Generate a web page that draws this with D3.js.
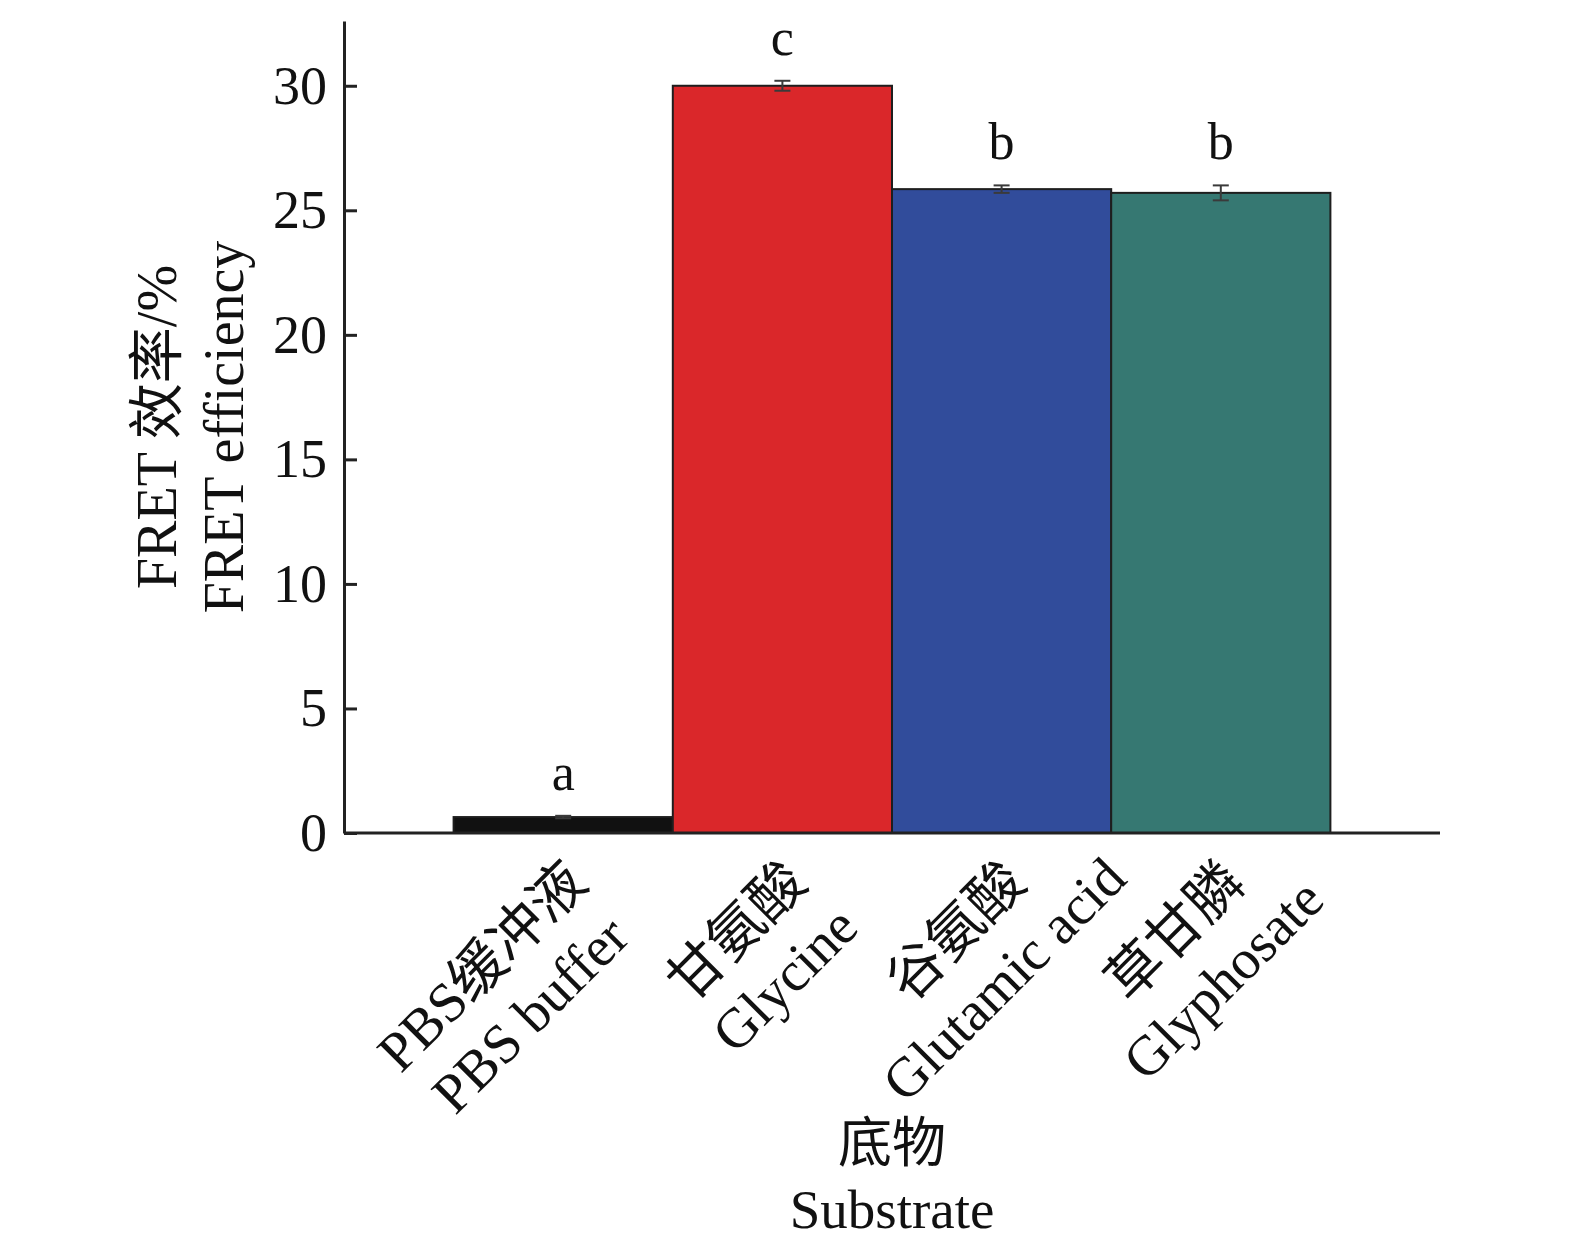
<!DOCTYPE html>
<html>
<head>
<meta charset="utf-8">
<script src="https://cdn.jsdelivr.net/npm/d3@7/dist/d3.min.js"></script>
<style>
  body { margin: 0; background: #fff; }
  text { font-family: "Liberation Serif", "Noto Sans CJK SC", serif; fill: #111; }
</style>
</head>
<body>
<svg id="chart" width="1575" height="1260"></svg>
<script>
// chart data
const categories = ["PBS", "Glycine", "Glutamic acid", "Glyphosate"];
const labelsZh = ["PBS缓冲液", "甘氨酸", "谷氨酸", "草甘膦"];
const labelsEn = ["PBS buffer", "Glycine", "Glutamic acid", "Glyphosate"];
const values = [0.64, 30.0, 25.85, 25.7];
const errors = [0.05, 0.2, 0.15, 0.3];
const letters = ["a", "c", "b", "b"];
const yTicks = [0, 5, 10, 15, 20, 25, 30];
const colors = ["#111111", "#da272a", "#314c9b", "#367872"];

const svg = d3.select("#chart");

// plot area
const plotLeft = 344, plotRight = 1440, plotTop = 21, plotBottom = 833;

const x = d3.scaleBand()
    .domain(categories)
    .range([plotLeft, plotRight])
    .paddingInner(0)
    .paddingOuter(0.5);

const y = d3.scaleLinear()
    .domain([0, 32.6])
    .range([plotBottom, plotTop]);

// bars
svg.append("g")
    .selectAll("rect")
    .data(categories)
    .enter().append("rect")
    .attr("x", d => x(d))
    .attr("y", (d, i) => y(values[i]))
    .attr("width", x.bandwidth())
    .attr("height", (d, i) => y(0) - y(values[i]))
    .attr("fill", (d, i) => colors[i])
    .attr("stroke", "#1e1e1e")
    .attr("stroke-width", 2);

// error bars
const err = svg.append("g").attr("stroke", "#3a3a3a").attr("stroke-width", 2);
categories.forEach((c, i) => {
    let cx = x(c) + x.bandwidth() / 2;
    let y1 = y(values[i] + errors[i]), y2 = y(values[i] - errors[i]);
    err.append("line").attr("x1", cx).attr("x2", cx).attr("y1", y1).attr("y2", y2);
    err.append("line").attr("x1", cx - 8).attr("x2", cx + 8).attr("y1", y1).attr("y2", y1);
    err.append("line").attr("x1", cx - 8).attr("x2", cx + 8).attr("y1", y2).attr("y2", y2);
});

// significance letters
svg.append("g")
    .selectAll("text")
    .data(categories)
    .enter().append("text")
    .attr("x", d => x(d) + x.bandwidth() / 2)
    .attr("y", (d, i) => y(values[i] + errors[i]) - 26)
    .attr("text-anchor", "middle")
    .style("font-size", "52px")
    .text((d, i) => letters[i]);

// y axis
const yAxis = svg.append("g")
    .attr("transform", `translate(${plotLeft},0)`)
    .call(d3.axisLeft(y).tickValues(yTicks).tickSize(-13).tickSizeOuter(0).tickPadding(17));
yAxis.select(".domain").attr("stroke", "#222").attr("stroke-width", 3);
yAxis.selectAll(".tick line").attr("stroke", "#222").attr("stroke-width", 3);
yAxis.selectAll(".tick text")
    .style("font-size", "54px")
    .style("font-family", "Liberation Serif")
    .attr("fill", "#111");

// x axis line (no ticks)
const xAxis = svg.append("g")
    .attr("transform", `translate(0,${plotBottom})`)
    .call(d3.axisBottom(x).tickSize(0).tickFormat(""));
xAxis.select(".domain").attr("stroke", "#222").attr("stroke-width", 3)
    .attr("d", `M${plotLeft},0H${plotRight}`);

// rotated category labels (two lines, second centred on the first)
categories.forEach((c, i) => {
    let g = svg.append("g")
        .attr("transform", `translate(${x(c) + x.bandwidth() / 2},${plotBottom}) rotate(-45)`);
    let l1 = g.append("text")
        .attr("x", -18)
        .attr("y", 56)
        .attr("text-anchor", "end")
        .style("font-size", "56px")
        .text(labelsZh[i]);
    let w1 = l1.node().getComputedTextLength();
    g.append("text")
        .attr("x", -18 - w1 / 2)
        .attr("y", 124)
        .attr("text-anchor", "middle")
        .style("font-size", "56px")
        .text(labelsEn[i]);
});

// axis titles
const midX = (plotLeft + plotRight) / 2;
svg.append("text").attr("x", midX).attr("y", 1162)
    .attr("text-anchor", "middle").style("font-size", "54px").text("底物");
svg.append("text").attr("x", midX).attr("y", 1228)
    .attr("text-anchor", "middle").style("font-size", "55px").text("Substrate");

const midY = (plotTop + plotBottom) / 2;
svg.append("text")
    .attr("transform", `translate(176,${midY}) rotate(-90)`)
    .attr("text-anchor", "middle").style("font-size", "56px").text("FRET 效率/%");
svg.append("text")
    .attr("transform", `translate(243,${midY}) rotate(-90)`)
    .attr("text-anchor", "middle").style("font-size", "56px").text("FRET efficiency");
</script>
</body>
</html>
